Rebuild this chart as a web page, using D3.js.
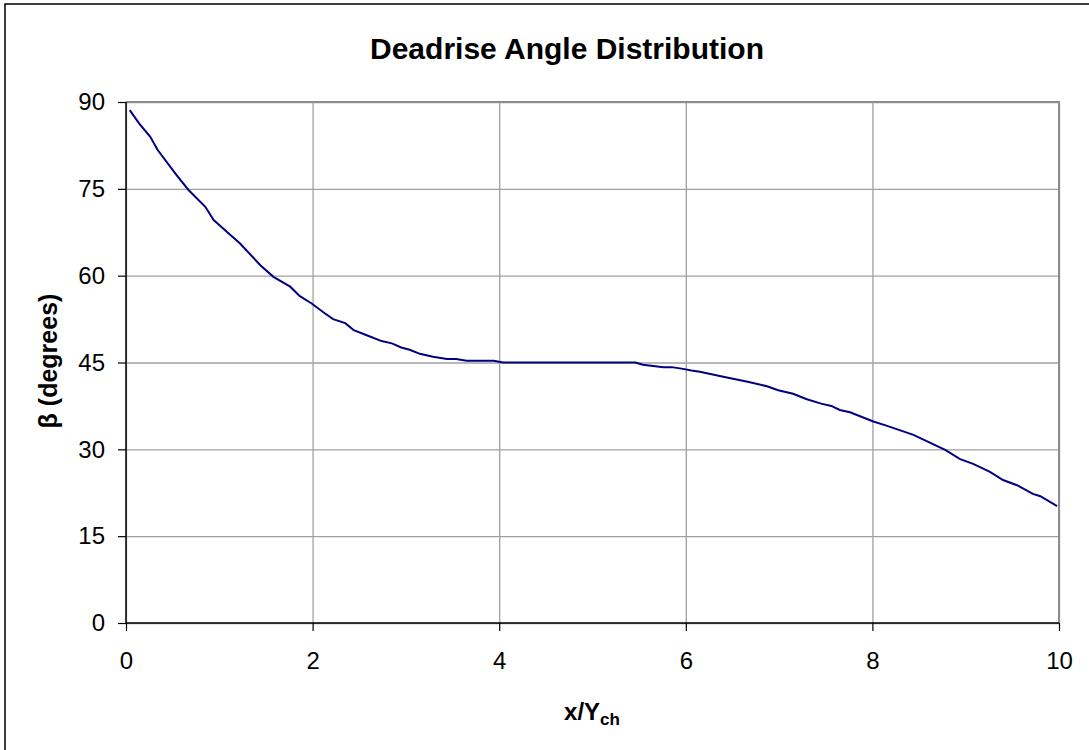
<!DOCTYPE html>
<html>
<head>
<meta charset="utf-8">
<script src="https://cdn.jsdelivr.net/npm/d3@7"></script>
<style>
  body { margin: 0; background: white; }
  text { font-family: "Liberation Sans", Arial, sans-serif; fill: #000; }
</style>
</head>
<body>
<svg id="chart"></svg>
<script>
// curve readings (x / Ych vs deadrise angle in degrees)
const xValues = [0.04, 0.14, 0.26, 0.34, 0.54, 0.67, 0.85, 0.94, 1.08, 1.22, 1.44, 1.58, 1.76, 1.86, 1.99,
    2.13, 2.22, 2.35, 2.44, 2.58, 2.74, 2.85, 2.95, 3.04, 3.15, 3.29, 3.44, 3.54, 3.65, 3.94, 4.04,
    5.46, 5.54, 5.65, 5.76, 5.85, 5.97, 6.06, 6.15, 6.44, 6.65, 6.87, 6.99, 7.15, 7.29, 7.45, 7.56,
    7.65, 7.76, 8.01, 8.15, 8.44, 8.78, 8.94, 9.08, 9.26, 9.40, 9.55, 9.72, 9.80, 9.98];
const betaValues = [88.6, 86.3, 84.0, 81.7, 77.4, 74.8, 71.9, 69.6, 67.6, 65.6, 61.8, 59.8, 58.1, 56.5, 55.2,
    53.5, 52.5, 51.8, 50.6, 49.7, 48.7, 48.3, 47.6, 47.2, 46.5, 46.0, 45.6, 45.6, 45.3, 45.3, 45.0,
    45.0, 44.6, 44.4, 44.2, 44.2, 43.9, 43.6, 43.4, 42.4, 41.7, 40.9, 40.2, 39.6, 38.7, 37.9, 37.5,
    36.8, 36.4, 34.8, 34.1, 32.5, 29.9, 28.3, 27.5, 26.1, 24.7, 23.8, 22.3, 21.9, 20.2];
const xTicks = [0, 2, 4, 6, 8, 10];
const yTicks = [0, 15, 30, 45, 60, 75, 90];

const width = 1089;
const height = 750;
const margin = { top: 102, right: 30, bottom: 127, left: 126 };
const innerW = width - margin.left - margin.right;
const innerH = height - margin.top - margin.bottom;

const svg = d3.select("#chart")
    .attr("width", width)
    .attr("height", height);

//outer chart frame (only top/left visible in the picture)
svg.append("rect")
    .attr("x", 5)
    .attr("y", 4)
    .attr("width", 1200)
    .attr("height", 900)
    .style("fill", "white")
    .style("stroke", "#000")
    .style("stroke-width", 1.5);

svg.append("text")
    .attr("x", 567)
    .attr("y", 59)
    .attr("text-anchor", "middle")
    .style("font-size", "30px")
    .style("font-weight", "bold")
    .text("Deadrise Angle Distribution");

const g = svg.append("g")
    .attr("transform", `translate(${margin.left},${margin.top})`);

const xScale = d3.scaleLinear().domain([0, 10]).range([0, innerW]);
const yScale = d3.scaleLinear().domain([0, 90]).range([innerH, 0]);

//grid
const xGrid = d3.axisBottom(xScale).tickValues(xTicks).tickSize(-innerH).tickFormat("");
const gx = g.append("g").attr("transform", `translate(0,${innerH})`);
xGrid(gx);
gx.select(".domain").remove();
gx.selectAll("line").style("stroke", "#a0a0a0").style("stroke-width", 1.3);

const yGrid = d3.axisLeft(yScale).tickValues(yTicks).tickSize(-innerW).tickFormat("");
const gy = g.append("g");
yGrid(gy);
gy.select(".domain").remove();
gy.selectAll("line").style("stroke", "#a0a0a0").style("stroke-width", 1.3);

//plot frame top / right
g.append("path")
    .attr("d", `M0,0H${innerW}V${innerH}`)
    .style("fill", "none")
    .style("stroke", "#8c8c8c")
    .style("stroke-width", 2);

//axes
const xAxis = d3.axisBottom(xScale).tickValues(xTicks).tickSize(8).tickPadding(21).tickFormat(d3.format("d"));
const xAxisGroup = g.append("g").attr("transform", `translate(0,${innerH})`);
xAxis(xAxisGroup);
xAxisGroup.select(".domain").attr("d", `M0,0H${innerW}`).style("stroke", "#000").style("stroke-width", 1.5);
xAxisGroup.selectAll("line").style("stroke", "#000").style("stroke-width", 1.2);
xAxisGroup.selectAll("text").style("font-size", "24px").style("font-family", "Liberation Sans, Arial, sans-serif");

const yAxis = d3.axisLeft(yScale).tickValues(yTicks).tickSize(8).tickPadding(13);
const yAxisGroup = g.append("g");
yAxis(yAxisGroup);
yAxisGroup.select(".domain").attr("d", `M0,0V${innerH}`).style("stroke", "#000").style("stroke-width", 1.5);
yAxisGroup.selectAll("line").style("stroke", "#000").style("stroke-width", 1.2);
yAxisGroup.selectAll("text").style("font-size", "24px").style("font-family", "Liberation Sans, Arial, sans-serif");

//axis labels
const xLabel = svg.append("text")
    .attr("x", 592)
    .attr("y", 720)
    .attr("text-anchor", "middle")
    .style("font-size", "24px")
    .style("font-weight", "bold");
xLabel.append("tspan").text("x/Y");
xLabel.append("tspan").attr("dy", 5).style("font-size", "17px").text("ch");

svg.append("text")
    .attr("transform", "translate(57,361) rotate(-90)")
    .attr("text-anchor", "middle")
    .style("font-size", "25px")
    .style("font-weight", "bold")
    .text("β (degrees)");

//curve
const points = xValues.map((x, i) => [x, betaValues[i]]);
const line = d3.line()
    .x(d => xScale(d[0]))
    .y(d => yScale(d[1]));

g.append("path")
    .datum(points)
    .attr("d", line)
    .style("fill", "none")
    .style("stroke", "#000080")
    .style("stroke-width", 2);
</script>
</body>
</html>
